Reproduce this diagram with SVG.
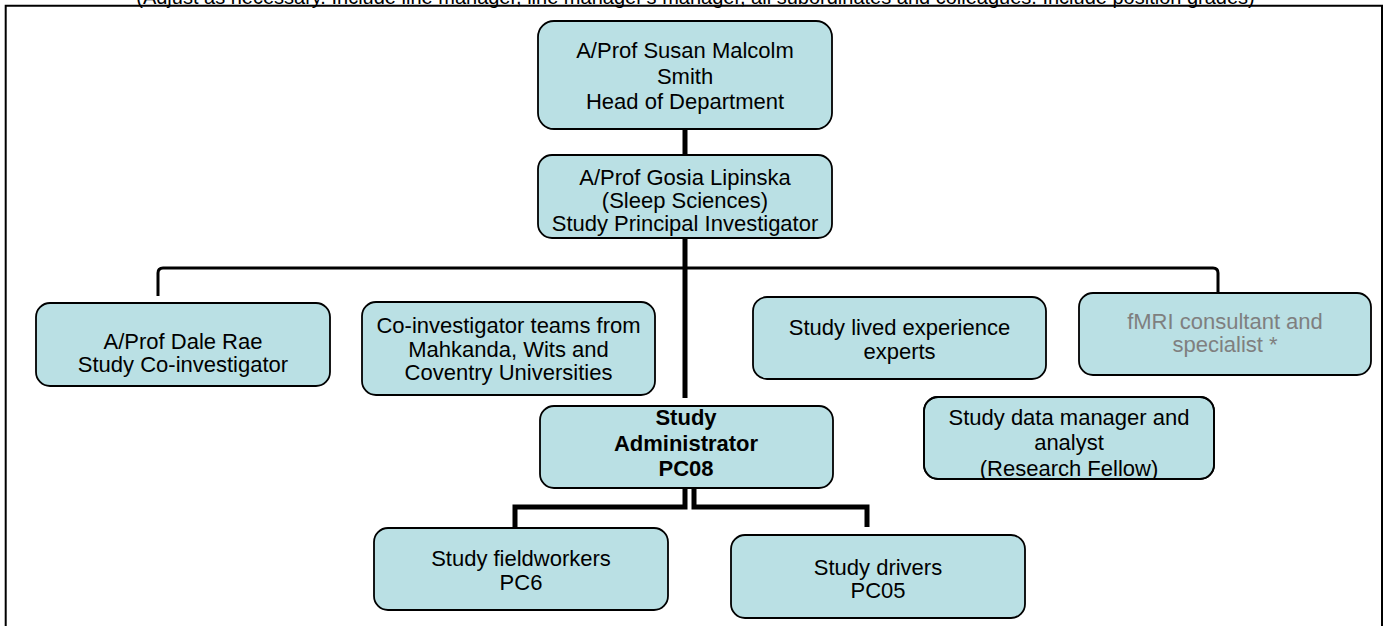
<svg xmlns="http://www.w3.org/2000/svg" width="1385" height="626" viewBox="0 0 1385 626">
<style>
  text { font-family: "Liberation Sans", Arial, sans-serif; font-size: 22px; fill: #000; text-anchor: middle; }
  .box { fill: #bae0e4; stroke: #000; stroke-width: 1.8; }
  .bold { font-weight: bold; }
  .grey { fill: #7f7f7f; }
  .conn { fill: none; stroke: #000; stroke-linejoin: miter; stroke-linecap: butt; }
  .hdr { font-size: 20px; }
</style>
<defs>
  <clipPath id="clipData"><rect x="924" y="397" width="290" height="82" rx="14"/></clipPath>
</defs>
<rect x="0" y="0" width="1385" height="626" fill="#fff"/>
<text class="hdr" x="695.5" y="4">(Adjust as necessary. Include line manager, line manager's manager, all subordinates and colleagues. Include position grades)</text>
<path d="M5.7,626 V5.7 H1382 V626" fill="none" stroke="#000" stroke-width="2"/>

<g id="connectors">
  <line class="conn" x1="685" y1="129" x2="685" y2="155" stroke-width="5"/>
  <line class="conn" x1="685" y1="238" x2="685" y2="398" stroke-width="5"/>
  <path class="conn" d="M158,296 V273 Q158,268 163,268 H1213 Q1218,268 1218,273 V297" stroke-width="3"/>
  <path class="conn" d="M685,488 V507 H515 V528" stroke-width="5"/>
  <path class="conn" d="M694,488 V507 H867 V527" stroke-width="5"/>
</g>

<g id="node-head">
  <rect class="box" x="538" y="21" width="294" height="108" rx="16"/>
  <text x="685" y="58">A/Prof Susan Malcolm</text>
  <text x="685" y="84">Smith</text>
  <text x="685" y="109">Head of Department</text>
</g>
<g id="node-pi">
  <rect class="box" x="538" y="155" width="294" height="83" rx="14"/>
  <text x="685" y="185">A/Prof Gosia Lipinska</text>
  <text x="685" y="208">(Sleep Sciences)</text>
  <text x="685" y="231">Study Principal Investigator</text>
</g>
<g id="node-dale">
  <rect class="box" x="36" y="303" width="294" height="83" rx="14"/>
  <text x="183" y="349">A/Prof Dale Rae</text>
  <text x="183" y="372">Study Co-investigator</text>
</g>
<g id="node-coinv">
  <rect class="box" x="362" y="302" width="293" height="93" rx="14"/>
  <text x="508.5" y="333">Co-investigator teams from</text>
  <text x="508.5" y="357">Mahkanda, Wits and</text>
  <text x="508.5" y="380">Coventry Universities</text>
</g>
<g id="node-lived">
  <rect class="box" x="753" y="297" width="293" height="82" rx="14"/>
  <text x="899.5" y="335">Study lived experience</text>
  <text x="899.5" y="359">experts</text>
</g>
<g id="node-fmri">
  <rect class="box" x="1079" y="293" width="292" height="82" rx="14"/>
  <text class="grey" x="1225" y="329">fMRI consultant and</text>
  <text class="grey" x="1225" y="352">specialist *</text>
</g>
<g id="node-data">
  <rect class="box" x="924" y="397" width="290" height="82" rx="14"/>
  <g clip-path="url(#clipData)">
    <text x="1069" y="425">Study data manager and</text>
    <text x="1069" y="450">analyst</text>
    <text x="1069" y="476">(Research Fellow)</text>
  </g>
  <rect x="924" y="397" width="290" height="82" rx="14" fill="none" stroke="#000" stroke-width="1.8"/>
</g>
<g id="node-admin">
  <rect class="box" x="540" y="406" width="293" height="82" rx="14"/>
  <text class="bold" x="686" y="425">Study</text>
  <text class="bold" x="686" y="451">Administrator</text>
  <text class="bold" x="686" y="476">PC08</text>
</g>
<g id="node-field">
  <rect class="box" x="374" y="528" width="294" height="82" rx="14"/>
  <text x="521" y="566">Study fieldworkers</text>
  <text x="521" y="590">PC6</text>
</g>
<g id="node-drivers">
  <rect class="box" x="731" y="535" width="294" height="83" rx="14"/>
  <text x="878" y="575">Study drivers</text>
  <text x="878" y="598">PC05</text>
</g>
</svg>
